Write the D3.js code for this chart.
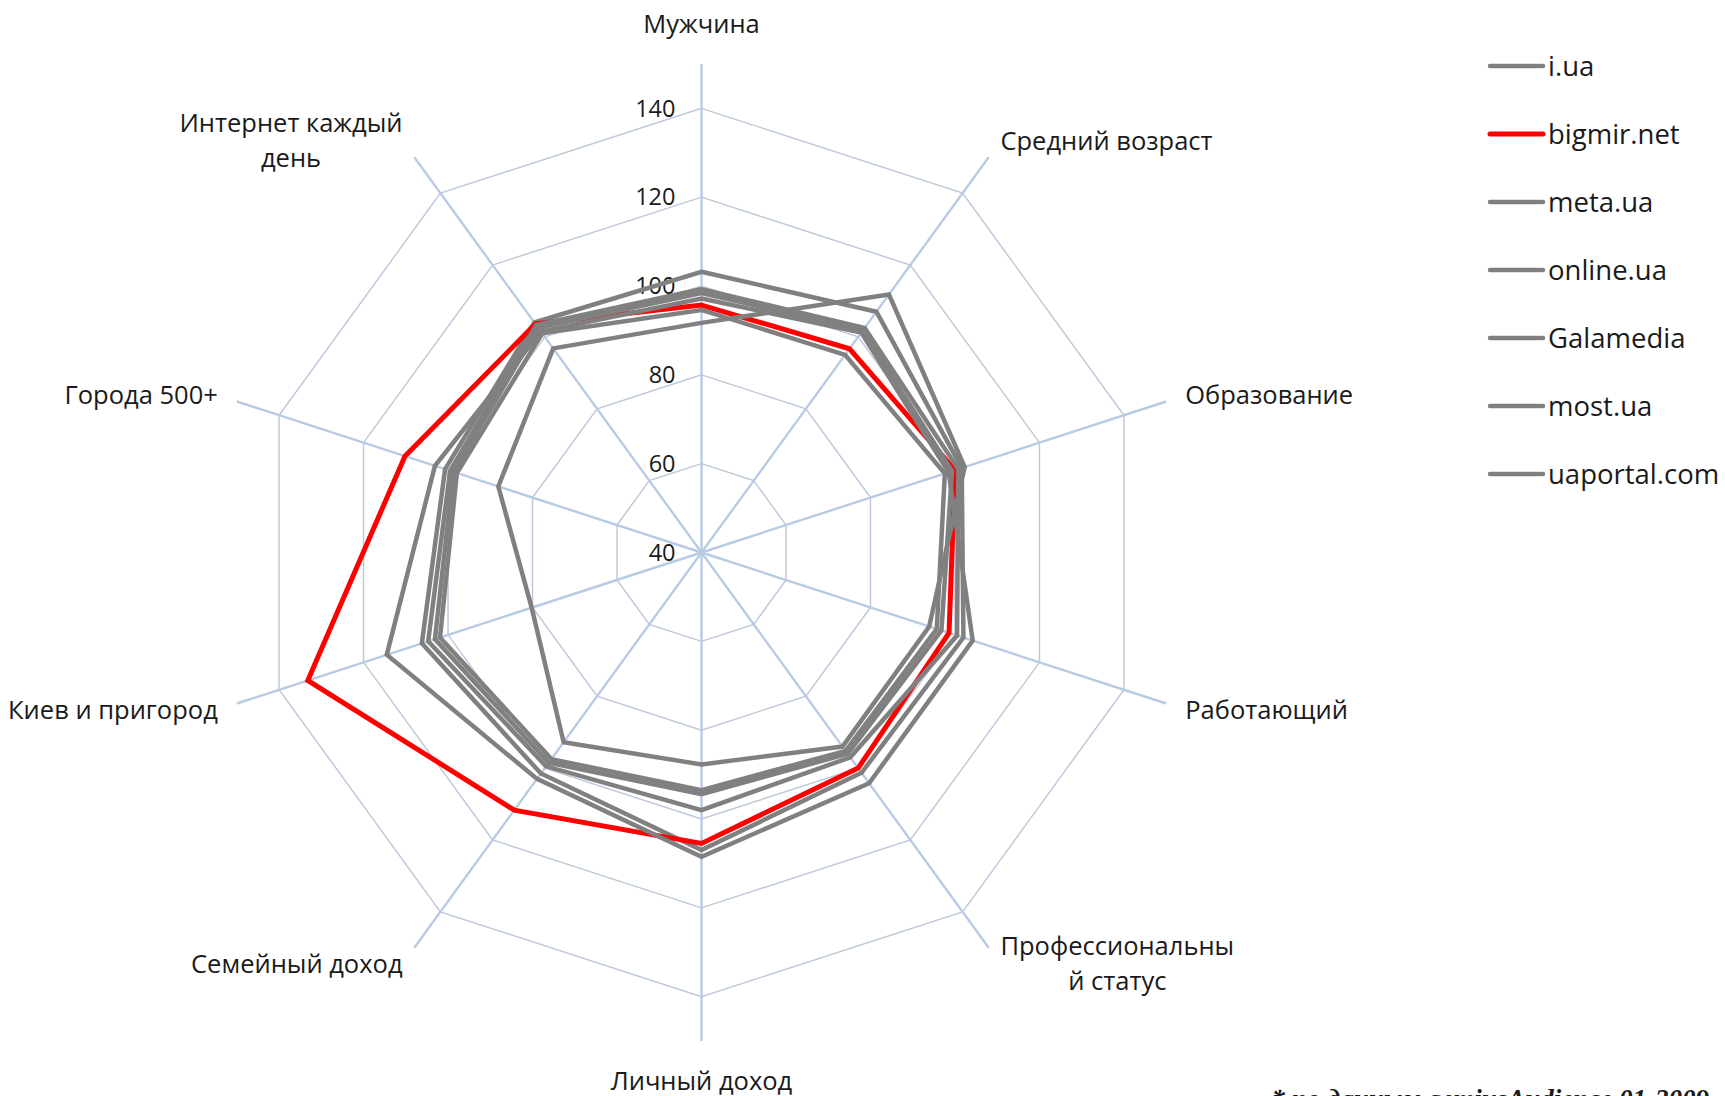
<!DOCTYPE html>
<html>
<head>
<meta charset="utf-8">
<script src="https://cdnjs.cloudflare.com/ajax/libs/d3/7.8.5/d3.min.js"></script>
<style>
    body { margin: 0; background: #fff; }
    text { font-family: "Open Sans", sans-serif; fill: #1a1a1a; }
</style>
</head>
<body>
<div id="d3Canvas"></div>
<script>
// axes of the radar, clockwise from the top ("\n" = where the label wraps)
const categories = ["Мужчина", "Средний возраст", "Образование", "Работающий", "Профессиональны\nй статус",
    "Личный доход", "Семейный доход", "Киев и пригород", "Города 500+", "Интернет каждый\nдень"];
const seriesNames = ["i.ua", "bigmir.net", "meta.ua", "online.ua", "Galamedia", "most.ua", "uaportal.com"];

// index values, one per axis
const iua       = [103.2, 107.0, 101.6, 102.0, 101.3, 107.0, 101.5, 106.2, 100.7, 104.0];
const bigmir    = [95.7, 96.7, 100.0, 98.6, 100.0, 105.5, 111.7, 133.2, 110.2, 103.6];
const metaua    = [99.3, 102.5, 100.8, 100.5, 97.0, 98.0, 99.5, 104.7, 99.5, 103.3];
const onlineua  = [98.4, 101.8, 99.3, 96.8, 96.0, 94.4, 98.5, 103.1, 98.7, 102.5];
const galamedia = [97.2, 101.2, 98.5, 104.2, 104.2, 108.5, 103.0, 114.5, 103.1, 101.5];
const mostua    = [94.6, 95.0, 97.6, 95.7, 95.2, 93.5, 97.5, 101.9, 97.9, 101.0];
const uaportal  = [91.7, 111.8, 102.3, 93.9, 94.0, 87.7, 92.8, 80.2, 88.1, 96.8];

const tickValues = [40, 60, 80, 100, 120, 140];
const footnote = "* по данным gemiusAudience 01-2009";

const seriesValues = [iua, bigmir, metaua, onlineua, galamedia, mostua, uaportal];
const seriesColors = ["#808080", "#ff0000", "#808080", "#808080", "#808080", "#808080", "#808080"];

const width = 1725;
const height = 1096;
const cx = 701.5;
const cy = 552.5;
const outer = 488.6;

const svg = d3.select("#d3Canvas")
    .append("svg")
    .attr("width", width)
    .attr("height", height);

const n = categories.length;
const angle = (i) => i * 2 * Math.PI / n;

const rScale = d3.scaleLinear()
    .domain([40, 150])
    .range([0, outer]);

const plot = svg.append("g")
    .attr("transform", "translate(" + cx + "," + cy + ")");

// grid rings
const ring = d3.lineRadial()
    .angle((d, i) => angle(i))
    .radius((d) => rScale(d))
    .curve(d3.curveLinearClosed);

plot.selectAll(".ring")
    .data(tickValues.filter((t) => t > 40))
    .enter().append("path")
    .attr("class", "ring")
    .attr("d", (t) => ring(categories.map(() => t)))
    .attr("fill", "none")
    .attr("stroke", "#bcc7d9")
    .attr("stroke-width", 1.4);

// spokes
plot.selectAll(".spoke")
    .data(categories)
    .enter().append("line")
    .attr("class", "spoke")
    .attr("x1", 0)
    .attr("y1", 0)
    .attr("x2", (d, i) => rScale(150) * Math.sin(angle(i)))
    .attr("y2", (d, i) => -rScale(150) * Math.cos(angle(i)))
    .attr("stroke", "#b9cbe4")
    .attr("stroke-width", 2.4);

// tick labels along the top spoke
plot.selectAll(".tick")
    .data(tickValues)
    .enter().append("text")
    .attr("class", "tick")
    .attr("x", -26)
    .attr("y", (t) => -rScale(t))
    .attr("dy", "0.35em")
    .attr("text-anchor", "end")
    .style("font-size", "23.5px")
    .text((t) => t);

// series
const line = d3.lineRadial()
    .angle((d, i) => angle(i))
    .radius((d) => rScale(d))
    .curve(d3.curveLinearClosed);

plot.selectAll(".series")
    .data(seriesValues)
    .enter().append("path")
    .attr("class", "series")
    .attr("d", (d) => line(d))
    .attr("fill", "none")
    .attr("stroke", (d, i) => seriesColors[i])
    .attr("stroke-width", (d, i) => i === 1 ? 5 : 4.5)
    .attr("stroke-linejoin", "miter")
    .attr("stroke-miterlimit", 3);

// category labels
const lineHeight = 35;
categories.forEach(function (cat, i) {
    const s = Math.sin(angle(i));
    const c = Math.cos(angle(i));
    const side = Math.abs(s) < 0.1;
    const dist = side ? outer + 40 : outer + 20;
    const ax = dist * s;
    const ay = -dist * c;
    const parts = cat.split("\n");

    const t = plot.append("text")
        .attr("text-anchor", "middle")
        .style("font-size", "25.5px");
    parts.forEach(function (p, k) {
        t.append("tspan")
            .attr("x", 0)
            .attr("y", ay + (k - (parts.length - 1) / 2) * lineHeight)
            .attr("dy", "0.35em")
            .text(p);
    });

    let bw = 0;
    t.selectAll("tspan").each(function () {
        bw = Math.max(bw, this.getComputedTextLength());
    });
    let x = ax;
    if (s > 0.1) x = ax + bw / 2;
    if (s < -0.1) x = ax - bw / 2;
    t.selectAll("tspan").attr("x", x);
});

// legend
const legend = svg.append("g")
    .attr("transform", "translate(1490,66)");

const item = legend.selectAll(".item")
    .data(seriesNames)
    .enter().append("g")
    .attr("class", "item")
    .attr("transform", (d, i) => "translate(0," + i * 68 + ")");

item.append("line")
    .attr("x1", 0)
    .attr("x2", 53)
    .attr("stroke", (d, i) => seriesColors[i])
    .attr("stroke-width", (d, i) => i === 1 ? 5 : 4.5)
    .attr("stroke-linecap", "round");

item.append("text")
    .attr("x", 58)
    .attr("dy", "0.35em")
    .style("font-size", "27.5px")
    .text((d) => d);

// source note, cut by the bottom edge as in the original
svg.append("text")
    .attr("x", 1709)
    .attr("y", 1108)
    .attr("text-anchor", "end")
    .style("font-family", "'Liberation Serif', serif")
    .style("font-weight", "bold")
    .style("font-style", "italic")
    .style("font-size", "27px")
    .text(footnote);
</script>
</body>
</html>
